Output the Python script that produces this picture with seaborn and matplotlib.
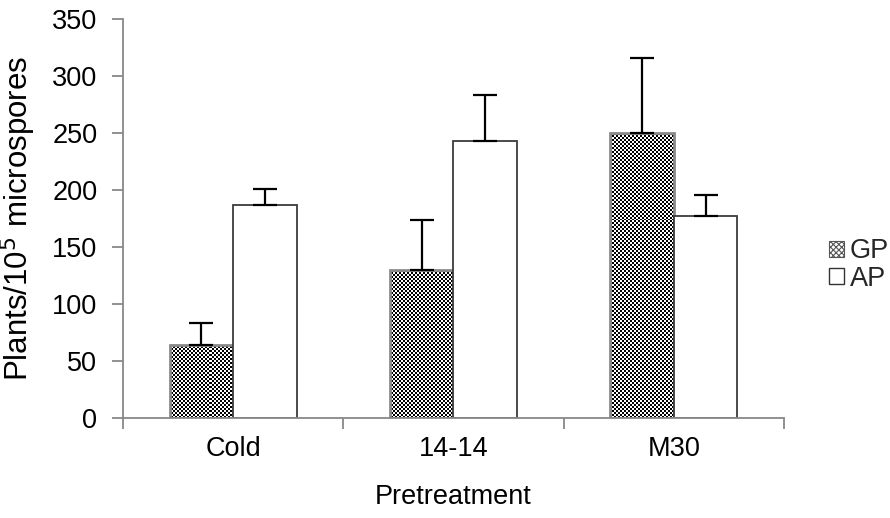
import numpy as np
import pandas as pd
import matplotlib
matplotlib.use("Agg")
import matplotlib.pyplot as plt
import seaborn as sns
from matplotlib.patches import Patch

categories = ["Cold", "14-14", "M30"]
series = ["GP", "AP"]
gp_values = [64, 130, 250]
ap_values = [187, 243, 177]
gp_errors = [19, 44, 66]
ap_errors = [14, 40, 19]
y_ticks = [0, 50, 100, 150, 200, 250, 300, 350]

FS = 19.5

sns.set_theme(style="white")
plt.rcParams["font.family"] = ["Liberation Sans", "DejaVu Sans"]
plt.rcParams["hatch.linewidth"] = 0.8

df = pd.DataFrame({
    "Pretreatment": categories * 2,
    "Series": ["GP"] * 3 + ["AP"] * 3,
    "Value": gp_values + ap_values,
})

fig = plt.figure(figsize=(8.9, 5.18), dpi=100)
ax = fig.add_axes([123 / 890, 1 - 418 / 518, 661 / 890, 399 / 518])

sns.barplot(data=df, x="Pretreatment", y="Value", hue="Series",
            order=categories, hue_order=series, errorbar=None,
            width=0.576, gap=0, palette=["white", "white"], ax=ax,
            legend=False, saturation=1)

ax.set_xlim(-0.5, 2.5)
ax.set_ylim(0, 350)

bars = ax.patches
n = len(categories)
gp_bars = bars[:n]
ap_bars = bars[n:2 * n]

# checkerboard fill for GP
rows, cols = 200, 331
checker = (np.indices((rows, cols)).sum(axis=0) % 2).astype(float)
for b in gp_bars:
    b.set_facecolor("none")
    b.set_edgecolor("#8a8a8a")
    b.set_linewidth(2.0)
    im = ax.imshow(checker, cmap="gray", vmin=0, vmax=1, extent=(-0.5, 2.5, 0, 350),
                   aspect="auto", interpolation="nearest", zorder=b.get_zorder() - 0.1,
                   origin="lower")
    im.set_clip_path(b)
for b in ap_bars:
    b.set_facecolor("white")
    b.set_edgecolor("#3c3c3c")
    b.set_linewidth(1.3)
ax.set_xlim(-0.5, 2.5)
ax.set_ylim(0, 350)

# error bars (plus direction only)
for blist, vals, errs in [(gp_bars, gp_values, gp_errors), (ap_bars, ap_values, ap_errors)]:
    xs = [b.get_x() + b.get_width() / 2 for b in blist]
    ax.errorbar(xs, vals, yerr=[np.zeros(len(errs)), errs], fmt="none",
                ecolor="black", elinewidth=1.6, capsize=8.6, capthick=1.6, zorder=5)

# axes styling
for s in ["top", "right"]:
    ax.spines[s].set_visible(False)
for s in ["left", "bottom"]:
    ax.spines[s].set_color("#888888")
    ax.spines[s].set_linewidth(1.3)

ax.set_yticks(y_ticks)
ax.set_yticklabels([str(t) for t in y_ticks], fontsize=FS, color="black")
ax.tick_params(axis="y", direction="out", length=8, width=1.3, color="#888888", pad=10.5, left=True)

ax.set_xticks(range(n))
ax.set_xticklabels(categories, fontsize=FS, color="black")
ax.tick_params(axis="x", which="major", length=0, pad=13)
ax.set_xticks([-0.5, 0.5, 1.5, 2.5], minor=True)
ax.tick_params(axis="x", which="minor", direction="out", length=8, width=1.3,
               color="#888888", bottom=True)

ax.set_ylabel("Plants/10$^{5}$ microspores", fontsize=22.5, color="black")
ax.yaxis.set_label_coords(-0.128, 0.5)
ax.set_xlabel("Pretreatment", fontsize=FS, color="black")
ax.xaxis.set_label_coords(0.5, -0.165)

handles = [Patch(facecolor="white", edgecolor="#555555", hatch="xxxxxx", linewidth=0.8),
           Patch(facecolor="white", edgecolor="#333333", linewidth=1.0)]
fig.legend(handles, series, loc="center left", bbox_to_anchor=(829 / 890, 1 - 265 / 518),
           frameon=False, fontsize=FS, handlelength=0.55, handleheight=0.55,
           handletextpad=0.22, labelspacing=0.05, borderpad=0, borderaxespad=0)

fig.savefig("out.png", dpi=100)
